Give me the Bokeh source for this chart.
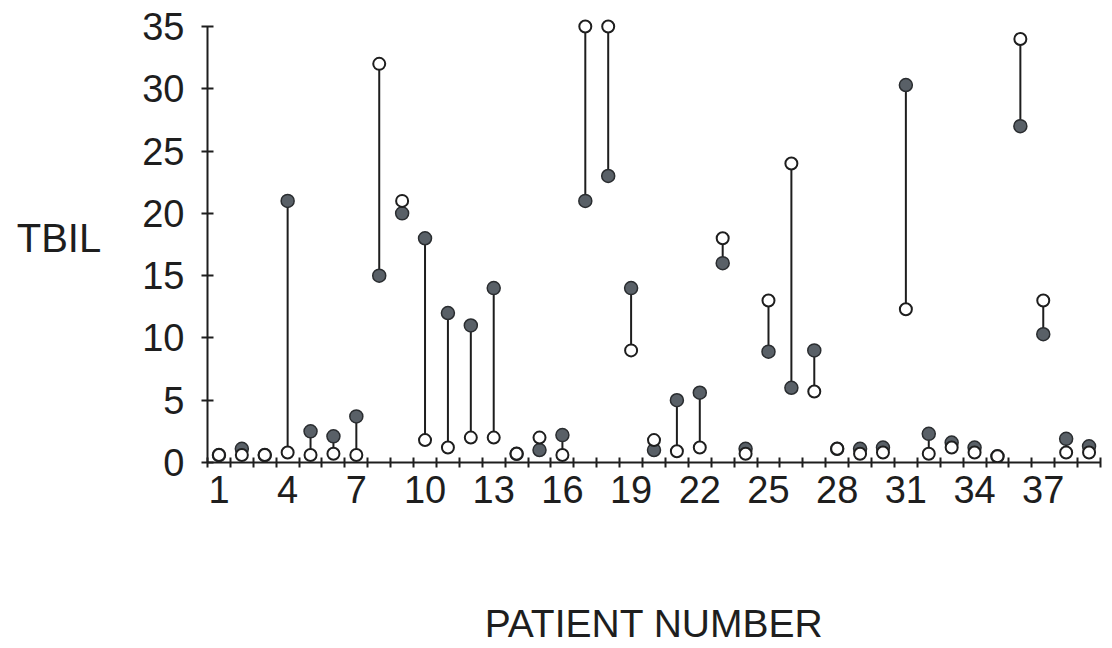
from bokeh.plotting import figure
from bokeh.models import FixedTicker, ColumnDataSource
from bokeh.embed import file_html
from bokeh.resources import INLINE

patients = list(range(1, 40))
open_vals = [0.6, 0.6, 0.6, 0.8, 0.6, 0.7, 0.6, 32.0, 21.0, 1.8,
             1.2, 2.0, 2.0, 0.7, 2.0, 0.6, 35.0, 35.0, 9.0, 1.8,
             0.9, 1.2, 18.0, 0.7, 13.0, 24.0, 5.7, 1.1, 0.7, 0.8,
             12.3, 0.7, 1.2, 0.8, 0.5, 34.0, 13.0, 0.8, 0.8]
filled_vals = [0.6, 1.1, 0.6, 21.0, 2.5, 2.1, 3.7, 15.0, 20.0, 18.0,
               12.0, 11.0, 14.0, 0.7, 1.0, 2.2, 21.0, 23.0, 14.0, 1.0,
               5.0, 5.6, 16.0, 1.1, 8.9, 6.0, 9.0, 1.1, 1.1, 1.2,
               30.3, 2.3, 1.6, 1.2, 0.5, 27.0, 10.3, 1.9, 1.3]
x_tick_labels = [1, 4, 7, 10, 13, 16, 19, 22, 25, 28, 31, 34, 37]
y_ticks = [0, 5, 10, 15, 20, 25, 30, 35]

src = ColumnDataSource(dict(x=patients, o=open_vals, f=filled_vals))

FONT = "Liberation Sans"
INK = "#1e1e1e"

p = figure(width=1104, height=648, output_backend="svg", toolbar_location=None,
           x_range=(0.5, 39.5), y_range=(0, 36.124),
           min_border_left=207, min_border_right=4, min_border_top=12,
           min_border_bottom=186)
p.outline_line_color = None
p.grid.visible = False
p.background_fill_color = "white"
p.border_fill_color = "white"

p.segment(x0="x", y0="o", x1="x", y1="f", source=src, line_color=INK, line_width=2)
p.scatter(x="x", y="f", source=src, marker="circle", size=13,
          fill_color="#596067", line_color="#2a2d30", line_width=1.5)
p.scatter(x="x", y="o", source=src, marker="circle", size=12,
          fill_color="white", line_color=INK, line_width=2)

xa = p.xaxis[0]
xa.ticker = FixedTicker(ticks=x_tick_labels,
                        minor_ticks=[i + 0.5 for i in range(0, 40)])
xa.major_tick_in = 0
xa.major_tick_out = 0
xa.minor_tick_in = 5
xa.minor_tick_out = 5
xa.minor_tick_line_color = INK
xa.minor_tick_line_width = 2
xa.axis_line_color = INK
xa.axis_line_width = 2
xa.major_label_text_font = FONT
xa.major_label_text_font_size = "38px"
xa.major_label_text_color = INK
xa.major_label_standoff = 8
xa.axis_label = "PATIENT NUMBER"
xa.axis_label_text_font = FONT
xa.axis_label_text_font_size = "39px"
xa.axis_label_text_font_style = "normal"
xa.axis_label_text_color = INK
xa.axis_label_standoff = 96

ya = p.yaxis[0]
ya.ticker = FixedTicker(ticks=y_ticks, minor_ticks=[])
ya.bounds = (0, 35)
ya.major_tick_in = 6
ya.major_tick_out = 6
ya.major_tick_line_color = INK
ya.major_tick_line_width = 2
ya.axis_line_color = INK
ya.axis_line_width = 2
ya.major_label_text_font = FONT
ya.major_label_text_font_size = "38px"
ya.major_label_text_color = INK
ya.major_label_standoff = 17
ya.axis_label = "TBIL"
ya.axis_label_orientation = "horizontal"
ya.axis_label_text_font = FONT
ya.axis_label_text_font_size = "40px"
ya.axis_label_text_font_style = "normal"
ya.axis_label_text_color = INK
ya.axis_label_standoff = 38

open("out.html", "w").write(file_html(p, INLINE))
